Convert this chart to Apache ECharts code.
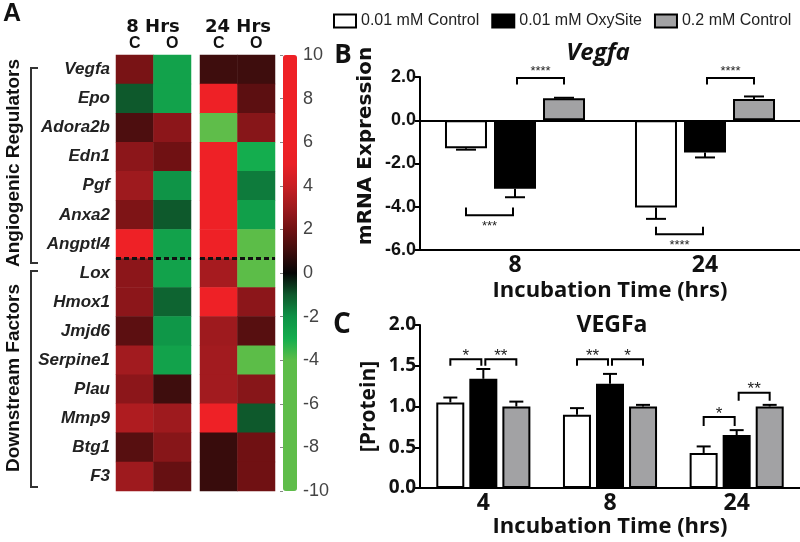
<!DOCTYPE html>
<html><head><meta charset="utf-8">
<script src="https://cdn.jsdelivr.net/npm/echarts@6/dist/echarts.min.js"></script>
<style>html,body{margin:0;padding:0;background:#fff}#c{width:800px;height:542px}</style>
</head><body><div id="c"></div>
<script>
// ---------- Panel A: heatmap data ----------
const genes = ['Vegfa','Epo','Adora2b','Edn1','Pgf','Anxa2','Angptl4','Lox','Hmox1','Jmjd6','Serpine1','Plau','Mmp9','Btg1','F3'];
const hmCols = ['C','O'];
const hmTimes = ['8 Hrs','24 Hrs'];
const hm8C  = [2.2, -1.0, 1.3, 2.6, 3.0, 2.3, 7.0, 2.6, 2.6, 1.6, 3.1, 2.6, 3.4, 1.5, 3.0];
const hm8O  = [-2.6, -2.6, 2.6, 2.0, -2.1, -1.0, -2.6, -2.6, -1.2, -2.2, -2.6, 1.0, 3.0, 2.5, 1.8];
const hm24C = [1.0, 7.0, -5.0, 7.0, 7.0, 7.0, 7.0, 3.2, 7.0, 3.0, 3.1, 3.1, 8.0, 0.9, 0.9];
const hm24O = [1.0, 1.6, 2.5, -3.0, -1.6, -2.5, -4.0, -4.0, 2.6, 1.5, -4.0, 2.5, -1.0, 2.0, 2.0];
const cmapColors = ['#5fbd4a','#5fbd4a','#5fbd4a','#5fbd4a','#5fbd4a','#5fbd4a','#5cbd48','#14ad4e','#0e9146','#0e592c','#050505',
                    '#3e0d0d','#701113','#9e1a1e','#c81f24','#e92026','#ee2126','#ee2126','#ee2126','#ee2126','#ee2126'];
const groupLabels = ['Angiogenic Regulators','Downstream Factors'];

// ---------- Legend / groups ----------
const seriesNames = ['0.01 mM Control','0.01 mM OxySite','0.2 mM Control'];
const barColors = ['#ffffff','#000000','#a2a2a4'];

// ---------- Panel B: Vegfa mRNA ----------
const bTimes = ['8','24'];
const bCtrl = [-1.30, -4.03];
const bOxy  = [-3.17, -1.49];
const bHigh = [1.02, 0.98];
const bCtrlErr = [0.06, 0.53];
const bOxyErr  = [0.39, 0.23];
const bHighErr = [0.02, 0.12];
const bBrackets = [[0,1,2,1.95,1.65],[0,0,1,-4.39,-4.04],[1,1,2,1.95,1.65],[1,0,1,-5.27,-4.93]];
const bStars = ['****','***','****','****'];

// ---------- Panel C: VEGFa protein ----------
const cTimes = ['4','8','24'];
const cCtrl = [1.05, 0.90, 0.43];
const cOxy  = [1.34, 1.28, 0.65];
const cHigh = [1.00, 1.00, 1.00];
const cCtrlErr = [0.06, 0.08, 0.08];
const cOxyErr  = [0.12, 0.12, 0.06];
const cHighErr = [0.06, 0.02, 0.02];
const cBrackets = [[0,0,1,1.58,1.50],[0,1,2,1.58,1.50],[1,0,1,1.58,1.50],[1,1,2,1.58,1.50],[2,0,1,0.87,0.76],[2,1,2,1.17,1.07]];
const cStars = ['*','**','**','*','*','**'];

// ---------- build ----------
function hmData(a, b){ const d=[]; a.forEach((v,i)=>d.push([0,i,v])); b.forEach((v,i)=>d.push([1,i,v])); return d; }
function errData(lists, errs){ const d=[]; lists.forEach((l,k)=>l.forEach((v,i)=>d.push([i,k,v,errs[k][i]]))); return d; }

const AR = 'Liberation Sans, Arial, sans-serif';
const OS = 'Open Sans, sans-serif';

function errRender(step, cap){
  return function(params, api){
    const cat=api.value(0), k=api.value(1), v=api.value(2), e=api.value(3);
    const p=api.coord([cat, v]);
    const x=p[0]+(k-1)*step;
    const y1=api.coord([cat, v<0 ? v-e : v+e])[1];
    return {type:'group', children:[
      {type:'line', shape:{x1:x,y1:p[1],x2:x,y2:y1}, style:{stroke:'#000',lineWidth:2}},
      {type:'line', shape:{x1:x-cap/2,y1:y1,x2:x+cap/2,y2:y1}, style:{stroke:'#000',lineWidth:2}}
    ]};
  };
}
function brRender(step, labels, fs, offUp, offDown){
  return function(params, api){
    const cat=api.value(0), f=api.value(1), t=api.value(2), yl=api.value(3), yt=api.value(4);
    const c=api.coord([cat, yl]);
    const x1=c[0]+(f-1)*step+(f===1?2:0);
    const x2=c[0]+(t-1)*step-(t===1?2:0);
    const ty=api.coord([cat, yt])[1];
    const up = yt < yl;
    return {type:'group', children:[
      {type:'polyline', shape:{points:[[x1,ty],[x1,c[1]],[x2,c[1]],[x2,ty]]}, style:{stroke:'#000',lineWidth:2,fill:null}},
      {type:'text', x:(x1+x2)/2, y: up ? c[1]-offUp : c[1]+offDown,
       style:{text:labels[params.dataIndex], fontSize:fs, fontFamily:AR, fill:'#222', align:'center', verticalAlign:'middle'}}
    ]};
  };
}

const hmX = i => ({type:'category', data:hmCols, gridIndex:i, position:'top', axisLine:{show:false}, axisTick:{show:false},
  axisLabel:{fontFamily:AR, fontWeight:'bold', fontSize:16, color:'#111', margin:3}});

const bottomX = (i, data, fs, gap) => ({type:'category', data:data, gridIndex:i, position:'bottom',
  axisLine:{onZero:false, lineStyle:{color:'#000', width:2}},
  axisTick:{alignWithLabel:true, length:5, lineStyle:{color:'#000', width:2}},
  axisLabel:{fontFamily:OS, fontWeight:'bold', fontSize:fs, color:'#111', margin:4},
  name:'Incubation Time (hrs)', nameLocation:'middle', nameGap:gap,
  nameTextStyle:{fontFamily:OS, fontWeight:'bold', fontSize:22, color:'#111'}});

const barSeries = [];
[[3, [bCtrl,bOxy,bHigh], 42, '16.7%'], [4, [cCtrl,cOxy,cHigh], 28, '18%']].forEach(([g, lists, bw, gap])=>{
  lists.forEach((l,k)=>{
    const s = {type:'bar', name:seriesNames[k], xAxisIndex:g, yAxisIndex:g, data:l, barWidth:bw, barGap:gap,
      itemStyle:{color:barColors[k], borderColor:'#000', borderWidth:2}, z:2};
    if (g===3 && k===0) s.markLine = {silent:true, symbol:'none', label:{show:false},
      lineStyle:{color:'#000', width:2, type:'solid'}, data:[{yAxis:0}]};
    barSeries.push(s);
  });
});

const option = {
  animation:false,
  backgroundColor:'#fff',
  grid:[
    {left:116, top:55, width:75, height:436},
    {left:200, top:55, width:75, height:436},
    {left:283, top:55, width:14, height:436},
    {left:420, top:77, right:0, height:173},
    {left:420, top:325, right:0, height:163}
  ],
  xAxis:[
    hmX(0), hmX(1),
    {type:'value', gridIndex:2, show:false},
    bottomX(3, bTimes, 23, 30),
    bottomX(4, cTimes, 23, 28)
  ],
  yAxis:[
    {type:'category', data:genes, gridIndex:0, inverse:true, axisLine:{show:false}, axisTick:{show:false},
     axisLabel:{fontFamily:AR, fontWeight:'bold', fontStyle:'italic', fontSize:17, color:'#222', margin:6}},
    {type:'category', data:genes, gridIndex:1, inverse:true, show:false},
    {type:'value', gridIndex:2, min:-10, max:10, interval:2, position:'right', splitLine:{show:false},
     axisLine:{show:false}, axisTick:{show:true, inside:true, length:3, lineStyle:{color:'#888'}},
     axisLabel:{fontFamily:AR, fontSize:18, color:'#444', margin:6}},
    {type:'value', gridIndex:3, min:-6, max:2, interval:2, splitLine:{show:false},
     axisLine:{show:true, onZero:false, lineStyle:{color:'#000', width:2}},
     axisTick:{show:true, length:5, lineStyle:{color:'#000', width:2}},
     axisLabel:{fontFamily:AR, fontWeight:'bold', fontSize:18, color:'#111', margin:4, formatter:v=>v.toFixed(1)}},
    {type:'value', gridIndex:4, min:0, max:2, interval:0.5, splitLine:{show:false},
     axisLine:{show:true, lineStyle:{color:'#000', width:2}},
     axisTick:{show:true, length:5, lineStyle:{color:'#000', width:2}},
     axisLabel:{fontFamily:OS, fontWeight:'bold', fontSize:19, color:'#111', margin:4, formatter:v=>v.toFixed(1)},
     name:'[Protein]', nameLocation:'middle', nameGap:40, nameRotate:90,
     nameTextStyle:{fontFamily:OS, fontWeight:'bold', fontSize:21, color:'#111'}}
  ],
  visualMap:{type:'continuous', min:-10, max:10, seriesIndex:[0,1], orient:'vertical', left:283, top:55,
    itemWidth:14, itemHeight:436, padding:0, calculable:false, inRange:{color:cmapColors}},
  legend:{data:seriesNames, left:328, top:8, icon:'rect', itemWidth:22, itemHeight:13, itemGap:12,
    textStyle:{fontFamily:AR, fontSize:16, color:'#222'}},
  series:[
    {type:'heatmap', xAxisIndex:0, yAxisIndex:0, data:hmData(hm8C, hm8O), itemStyle:{borderWidth:0}},
    {type:'heatmap', xAxisIndex:1, yAxisIndex:1, data:hmData(hm24C, hm24O), itemStyle:{borderWidth:0}},
    ...barSeries,
    {type:'custom', xAxisIndex:3, yAxisIndex:3, data:errData([bCtrl,bOxy,bHigh],[bCtrlErr,bOxyErr,bHighErr]),
     renderItem:errRender(49, 20), encode:{x:0, y:2}, z:3},
    {type:'custom', xAxisIndex:4, yAxisIndex:4, data:errData([cCtrl,cOxy,cHigh],[cCtrlErr,cOxyErr,cHighErr]),
     renderItem:errRender(33, 14), encode:{x:0, y:2}, z:3},
    {type:'custom', xAxisIndex:3, yAxisIndex:3, data:bBrackets, renderItem:brRender(49, bStars, 13, 7, 11), encode:{x:0, y:3}, z:4},
    {type:'custom', xAxisIndex:4, yAxisIndex:4, data:cBrackets, renderItem:brRender(33, cStars, 17, 3, 10), encode:{x:0, y:3}, z:4}
  ]
};

const chart = echarts.init(document.getElementById('c'), null, {renderer:'canvas'});
chart.setOption(option);

// decorations computed from the grid layout
const pA = chart.convertToPixel({gridIndex:0}, [0, 6]);
const pB = chart.convertToPixel({gridIndex:0}, [0, 7]);
const dashY = (pA[1]+pB[1])/2;
const txt = (x,y,text,font,extra) => Object.assign({type:'text', x:x, y:y, z:100,
  style:{text:text, font:font, fill:'#111', align:'center', verticalAlign:'middle'}}, extra||{});
const graphics = [
  txt(12, 14, 'A', 'bold 25px ' + AR),
  txt(343, 56, 'B', 'bold 26px ' + OS),
  txt(342, 325, 'C', 'bold 28px ' + OS),
  txt(153, 27, hmTimes[0], 'bold 18px DejaVu Sans'),
  txt(238, 27, hmTimes[1], 'bold 18px DejaVu Sans'),
  txt(14, 163, groupLabels[0], 'bold 19px ' + AR, {rotation:Math.PI/2}),
  txt(14, 378, groupLabels[1], 'bold 19px ' + AR, {rotation:Math.PI/2}),
  txt(598, 53, 'Vegfa', 'italic bold 24px ' + OS),
  txt(612, 325, 'VEGFa', 'bold 23px ' + OS),
  txt(366, 146, 'mRNA Expression', 'bold 20px DejaVu Sans', {rotation:Math.PI/2}),
  {type:'polyline', z:100, shape:{points:[[38,68],[31,68],[31,263],[38,263]]}, style:{stroke:'#333', lineWidth:2, fill:null}},
  {type:'polyline', z:100, shape:{points:[[38,271],[31,271],[31,487],[38,487]]}, style:{stroke:'#333', lineWidth:2, fill:null}},
  {type:'line', z:100, shape:{x1:116, y1:dashY, x2:191, y2:dashY}, style:{stroke:'#111', lineWidth:3, lineDash:[5,3]}},
  {type:'line', z:100, shape:{x1:200, y1:dashY, x2:275, y2:dashY}, style:{stroke:'#111', lineWidth:3, lineDash:[5,3]}}
];
chart.setOption({graphic:{elements:graphics}});
</script>
</body></html>
